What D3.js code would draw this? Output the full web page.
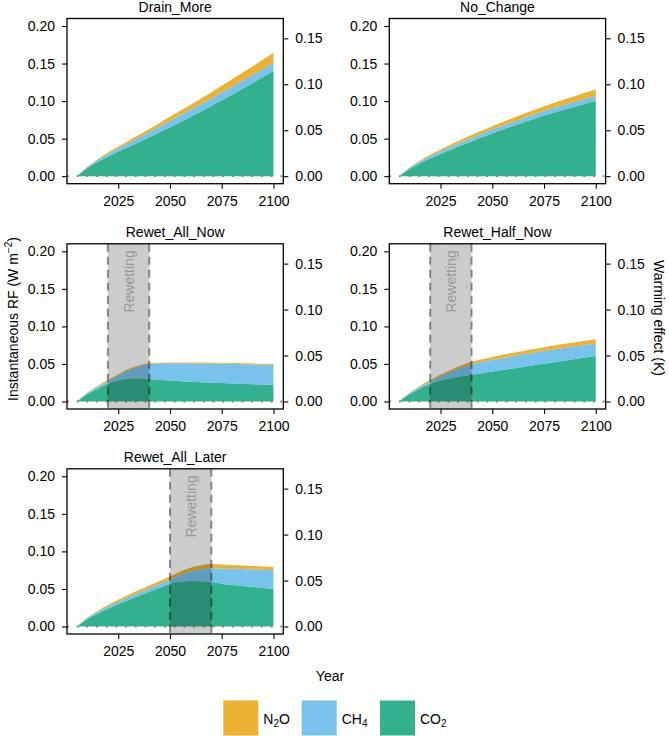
<!DOCTYPE html>
<html><head><meta charset="utf-8">
<script src="https://cdn.jsdelivr.net/npm/d3@7"></script>
<style>
body{margin:0;background:#fff}
text{font-family:"Liberation Sans",Arial,Helvetica,sans-serif}
</style>
</head><body>
<svg id="c" width="669" height="736"></svg>
<script>
// ---------------- data ----------------
const years = [2005,2010,2015,2020,2025,2030,2035,2040,2045,2050,2055,2060,2065,2070,2075,2080,2085,2090,2095,2100];
const gases = ["CO2","CH4","N2O"];
const gasColors = ["#009E73","#56B4E9","#E69F00"];
const scenarioNames = ["Drain_More","No_Change","Rewet_All_Now","Rewet_Half_Now","Rewet_All_Later"];
const rewetStart = [null,null,2020,2020,2050];
const rewetEnd   = [null,null,2040,2040,2070];

const drainMoreCO2 = [0,0.0105,0.0188,0.0260,0.0326,0.0389,0.0453,0.0518,0.0584,0.0651,0.0720,0.0790,0.0862,0.0935,0.1010,0.1086,0.1163,0.1241,0.1320,0.1400];
const drainMoreCH4 = [0,0.0015,0.0027,0.0037,0.0046,0.0054,0.0062,0.0070,0.0078,0.0085,0.0090,0.0094,0.0098,0.0101,0.0103,0.0105,0.0107,0.0108,0.0109,0.0110];
const drainMoreN2O = [0,0.0005,0.0012,0.0018,0.0024,0.0030,0.0036,0.0042,0.0048,0.0054,0.0061,0.0068,0.0075,0.0083,0.0091,0.0099,0.0107,0.0116,0.0125,0.0135];

const noChangeCO2 = [0,0.0095,0.0170,0.0235,0.0295,0.0352,0.0408,0.0463,0.0517,0.0570,0.0620,0.0668,0.0715,0.0762,0.0808,0.0849,0.0889,0.0927,0.0964,0.1000];
const noChangeCH4 = [0,0.0015,0.0025,0.0032,0.0037,0.0041,0.0044,0.0047,0.0049,0.0051,0.0053,0.0055,0.0057,0.0058,0.0060,0.0061,0.0063,0.0064,0.0066,0.0067];
const noChangeN2O = [0,0.0005,0.0012,0.0018,0.0024,0.0029,0.0033,0.0037,0.0041,0.0045,0.0049,0.0053,0.0057,0.0061,0.0065,0.0069,0.0073,0.0078,0.0083,0.0089];

const rewetAllNowCO2 = [0,0.0095,0.0170,0.0235,0.0280,0.0305,0.0310,0.0300,0.0288,0.0278,0.0270,0.0263,0.0257,0.0251,0.0246,0.0241,0.0236,0.0231,0.0226,0.0222];
const rewetAllNowCH4 = [0,0.0015,0.0025,0.0032,0.0065,0.0112,0.0155,0.0195,0.0217,0.0230,0.0238,0.0244,0.0249,0.0253,0.0256,0.0259,0.0261,0.0263,0.0264,0.0265];
const rewetAllNowN2O = [0,0.0005,0.0012,0.0018,0.0018,0.0016,0.0015,0.0013,0.0012,0.0012,0.0012,0.0012,0.0012,0.0012,0.0012,0.0012,0.0012,0.0012,0.0012,0.0012];

const rewetHalfNowCO2 = [0,0.0095,0.0170,0.0235,0.0278,0.0310,0.0336,0.0356,0.0377,0.0398,0.0419,0.0440,0.0460,0.0481,0.0502,0.0523,0.0544,0.0565,0.0585,0.0606];
const rewetHalfNowCH4 = [0,0.0015,0.0025,0.0032,0.0058,0.0085,0.0112,0.0138,0.0148,0.0155,0.0160,0.0164,0.0167,0.0169,0.0170,0.0170,0.0170,0.0169,0.0168,0.0166];
const rewetHalfNowN2O = [0,0.0005,0.0012,0.0018,0.0022,0.0026,0.0030,0.0034,0.0038,0.0041,0.0043,0.0045,0.0047,0.0049,0.0051,0.0053,0.0054,0.0055,0.0057,0.0058];

const rewetAllLaterCO2 = [0,0.0095,0.0170,0.0235,0.0295,0.0352,0.0408,0.0463,0.0517,0.0570,0.0600,0.0607,0.0602,0.0591,0.0570,0.0553,0.0540,0.0527,0.0514,0.0502];
const rewetAllLaterCH4 = [0,0.0015,0.0025,0.0032,0.0037,0.0041,0.0044,0.0047,0.0049,0.0051,0.0085,0.0125,0.0160,0.0187,0.0203,0.0215,0.0225,0.0233,0.0240,0.0245];
const rewetAllLaterN2O = [0,0.0005,0.0012,0.0018,0.0024,0.0029,0.0033,0.0037,0.0041,0.0045,0.0048,0.0051,0.0053,0.0053,0.0052,0.0050,0.0048,0.0046,0.0045,0.0044];

const leftTicks = [0,0.05,0.10,0.15,0.20];
const rightTicks = [0,0.05,0.10,0.15];
const xTicks = [2025,2050,2075,2100];
const warmingPerRF = 0.817; // K per W m-2 (secondary axis factor)

const seriesCO2 = [drainMoreCO2,noChangeCO2,rewetAllNowCO2,rewetHalfNowCO2,rewetAllLaterCO2];
const seriesCH4 = [drainMoreCH4,noChangeCH4,rewetAllNowCH4,rewetHalfNowCH4,rewetAllLaterCH4];
const seriesN2O = [drainMoreN2O,noChangeN2O,rewetAllNowN2O,rewetHalfNowN2O,rewetAllLaterN2O];

// ---------------- layout ----------------
const svg = d3.select("#c");
const colX = [67, 389.3];
const rowY = [18.5, 243.8, 468.8];
const pw = 216.3, ph = 165.2;
const FS = 14;

const stack = d3.stack().keys(gases);

scenarioNames.forEach((name, i) => {
  const col = i % 2, row = Math.floor(i / 2);
  const g = svg.append("g").attr("transform", `translate(${colX[col]},${rowY[row]})`);
  const x = d3.scaleLinear().domain([2000.25, 2104.75]).range([0, pw]);
  const y = d3.scaleLinear().domain([-0.01, 0.21]).range([ph, 0]);
  const yK = d3.scaleLinear().domain([-0.01*warmingPerRF, 0.21*warmingPerRF]).range([ph, 0]);

  const rows = years.map((yr, k) => ({year: yr, CO2: seriesCO2[i][k], CH4: seriesCH4[i][k], N2O: seriesN2O[i][k]}));
  const layers = stack(rows);
  const area = d3.area().x(d => x(d.data.year)).y0(d => y(d[0])).y1(d => y(d[1])).curve(d3.curveMonotoneX);

  g.selectAll("path.layer").data(layers).join("path")
    .attr("class","layer")
    .attr("d", area)
    .attr("fill", (d, j) => gasColors[j])
    .attr("fill-opacity", 0.8);

  // zero dotted line
  g.append("line").attr("x1", 0).attr("x2", pw).attr("y1", y(0)).attr("y2", y(0))
    .attr("stroke", "#808080").attr("stroke-width", 1.8).attr("stroke-dasharray", "1.8,7.9");

  // rewetting band
  if (rewetStart[i] !== null) {
    const x0 = x(rewetStart[i]), x1 = x(rewetEnd[i]);
    g.append("rect").attr("x", x0).attr("y", 0).attr("width", x1 - x0).attr("height", ph)
      .attr("fill", "#000").attr("fill-opacity", 0.2);
    [x0, x1].forEach(xx => {
      g.append("line").attr("x1", xx).attr("x2", xx).attr("y1", 0).attr("y2", ph)
        .attr("stroke", "#000").attr("stroke-opacity", 0.42).attr("stroke-width", 2)
        .attr("stroke-dasharray", "8,5");
    });
    g.append("text").attr("transform", `translate(${(x0 + x1) / 2},${y(0.2) - 1}) rotate(-90)`)
      .attr("text-anchor", "end").attr("dominant-baseline", "central")
      .attr("font-size", FS).attr("fill", "#999").text("Rewetting");
  }

  // border
  g.append("rect").attr("x", 0).attr("y", 0).attr("width", pw).attr("height", ph)
    .attr("fill", "none").attr("stroke", "#000").attr("stroke-width", 1.3);

  // axes
  const ax = g.append("g").call(d3.axisLeft(y).tickValues(leftTicks).tickFormat(d3.format(".2f")).tickSize(5).tickPadding(7));
  const axR = g.append("g").attr("transform", `translate(${pw},0)`)
    .call(d3.axisRight(yK).tickValues(rightTicks).tickFormat(d3.format(".2f")).tickSize(5).tickPadding(7));
  const axB = g.append("g").attr("transform", `translate(0,${ph})`)
    .call(d3.axisBottom(x).tickValues(xTicks).tickFormat(d3.format("d")).tickSize(5).tickPadding(7));
  [ax, axR, axB].forEach(a => {
    a.select(".domain").remove();
    a.selectAll("text").attr("font-size", FS).attr("fill", "#000")
      .attr("font-family", '"Liberation Sans",Arial,sans-serif');
    a.selectAll("line").attr("stroke", "#000").attr("stroke-width", 1.1);
  });

  // title
  g.append("text").attr("x", pw / 2).attr("y", -7).attr("text-anchor", "middle")
    .attr("font-size", FS).attr("fill", "#000").text(name);
});

// axis titles
svg.append("text").attr("transform", "translate(13,319) rotate(-90)").attr("text-anchor", "middle")
  .attr("font-size", FS).attr("dominant-baseline", "central")
  .call(t => {
    t.append("tspan").text("Instantaneous RF (W m");
    t.append("tspan").attr("font-size", 10).attr("dy", -5).text("\u22122");
    t.append("tspan").attr("dy", 5).text(")");
  });
svg.append("text").attr("transform", "translate(659,318) rotate(90)").attr("text-anchor", "middle")
  .attr("font-size", FS).attr("dominant-baseline", "central").text("Warming effect (K)");
svg.append("text").attr("x", 330).attr("y", 681).attr("text-anchor", "middle")
  .attr("font-size", FS).text("Year");

// legend
const legendOrder = [2, 1, 0];
const legendX = [223.3, 301.7, 380];
const legendSub = [["N","2","O"],["CH","4",""],["CO","2",""]];
legendOrder.forEach((gi, k) => {
  svg.append("rect").attr("x", legendX[k]).attr("y", 700.5).attr("width", 35).attr("height", 35)
    .attr("fill", gasColors[gi]).attr("fill-opacity", 0.8);
  const t = svg.append("text").attr("x", legendX[k] + 40).attr("y", 723.5).attr("font-size", FS);
  const parts = legendSub[k];
  t.append("tspan").text(parts[0]);
  t.append("tspan").attr("font-size", 10).attr("dy", 3).text(parts[1]);
  if (parts[2]) t.append("tspan").attr("dy", -3).text(parts[2]);
});
</script>
</body></html>
